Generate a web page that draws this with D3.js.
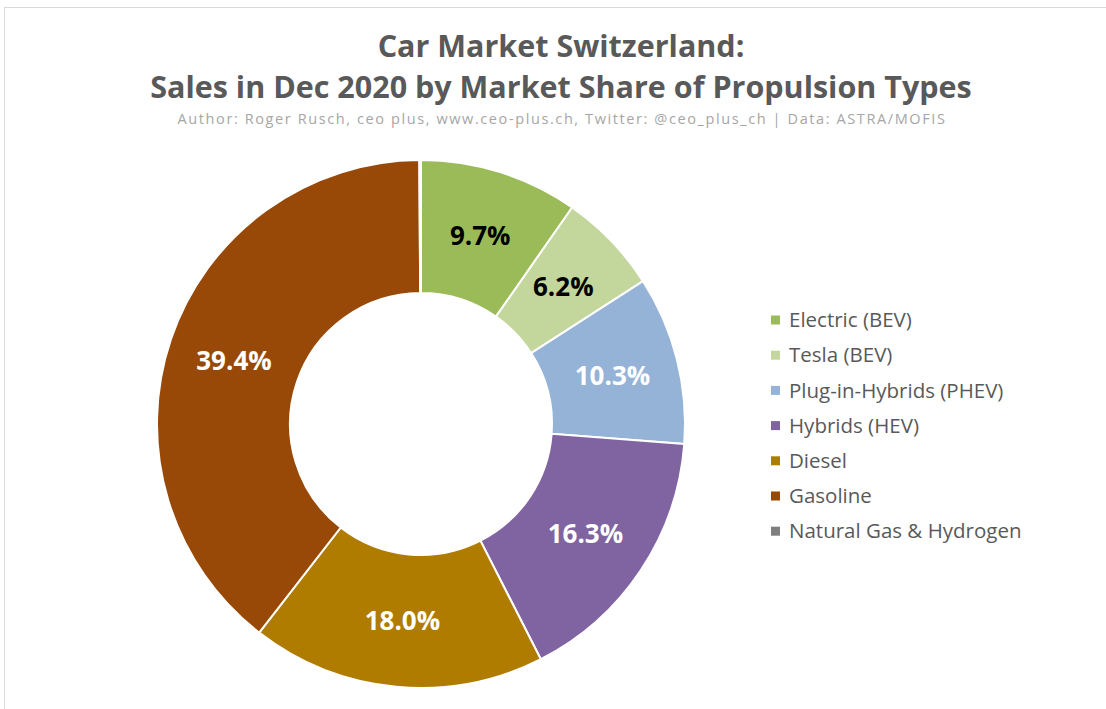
<!DOCTYPE html>
<html><head><meta charset="utf-8">
<script src="https://cdn.jsdelivr.net/npm/d3@7"></script>
<style>body{margin:0;background:#fff;}svg{display:block;}</style>
</head><body>
<svg id="c" width="1106" height="709"></svg>
<script>
const categories = ["Electric (BEV)","Tesla (BEV)","Plug-in-Hybrids (PHEV)","Hybrids (HEV)","Diesel","Gasoline","Natural Gas & Hydrogen"];
const shares = [9.7, 6.2, 10.3, 16.3, 18.0, 39.4, 0.1];
const colors = ["#9BBB59","#C3D69B","#95B3D7","#8064A2","#B07C00","#984807","#7F7F7F"];
const labelColors = ["#000","#000","#fff","#fff","#fff","#fff","#fff"];
const title1 = "Car Market Switzerland:";
const title2 = "Sales in Dec 2020 by Market Share of Propulsion Types";
const subtitle = "Author: Roger Rusch, ceo plus, www.ceo-plus.ch, Twitter: @ceo_plus_ch  | Data: ASTRA/MOFIS";

const svg = d3.select("#c");
const font = "'Open Sans', Lato, sans-serif";
svg.append("rect").attr("x",4.5).attr("y",7.5).attr("width",1110).attr("height",720)
  .attr("fill","#fff").attr("stroke","#D9D9D9").attr("stroke-width",1);

svg.append("text").attr("x",561).attr("y",57).attr("text-anchor","middle")
  .attr("font-family",font).attr("font-weight","bold").attr("font-size",30.5).attr("fill","#595959").text(title1);
svg.append("text").attr("x",561).attr("y",98).attr("text-anchor","middle")
  .attr("font-family",font).attr("font-weight","bold").attr("font-size",30.5).attr("fill","#595959").text(title2);
svg.append("text").attr("x",562).attr("y",124).attr("text-anchor","middle")
  .attr("font-family",font).attr("font-size",14.5).attr("letter-spacing",1.6).attr("fill","#A6A6A6").text(subtitle);

const cx = 421, cy = 424, R = 264, r = 131;
const pie = d3.pie().value(d=>d).sort(null);
const arcs = pie(shares);
const arc = d3.arc().innerRadius(r).outerRadius(R);
const g = svg.append("g").attr("transform",`translate(${cx},${cy})`);
g.selectAll("path").data(arcs).join("path")
  .attr("d",arc).attr("fill",(d,i)=>colors[i]).attr("stroke","#fff").attr("stroke-width",2);
g.selectAll("text").data(arcs.filter(d=>d.data>=1)).join("text")
  .attr("transform",d=>`translate(${arc.centroid(d)})`)
  .attr("text-anchor","middle").attr("dy","0.36em")
  .attr("font-family",font).attr("font-weight","bold").attr("font-size",26)
  .attr("fill",d=>labelColors[d.index])
  .text(d=>d.data.toFixed(1)+"%");

const lg = svg.append("g").attr("transform","translate(771,320)");
categories.forEach((c,i)=>{
  const row = lg.append("g").attr("transform",`translate(0,${i*35.2})`);
  row.append("rect").attr("x",0).attr("y",-4.5).attr("width",9).attr("height",9).attr("fill",colors[i]);
  row.append("text").attr("x",18).attr("dy","0.35em").attr("font-family",font)
    .attr("font-size",20.5).attr("fill","#595959").text(c);
});
</script>
</body></html>
